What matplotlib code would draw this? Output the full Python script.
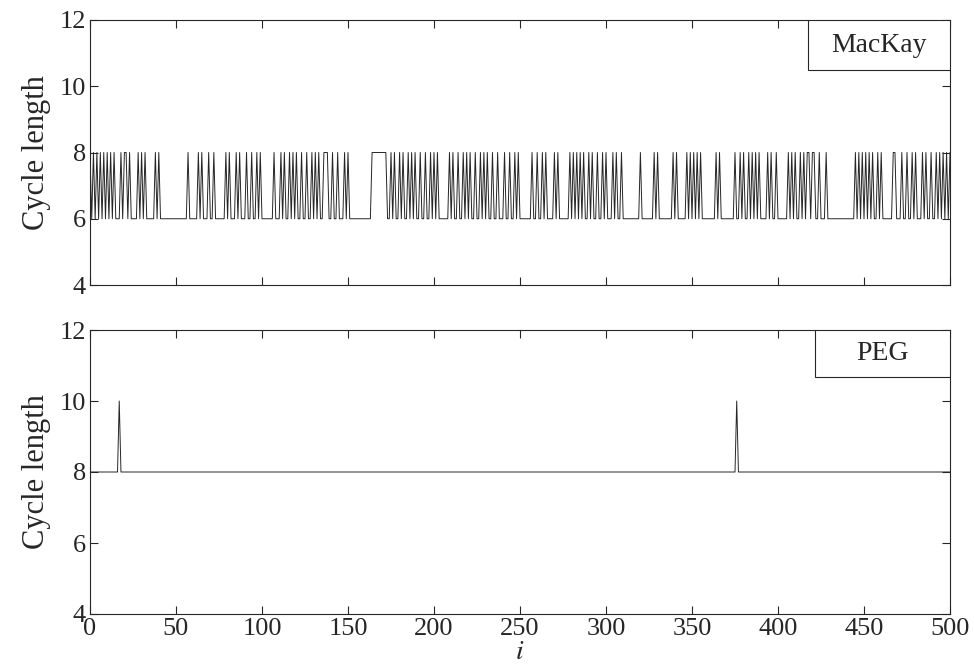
import numpy as np
import matplotlib
matplotlib.use("Agg")
import matplotlib.pyplot as plt
from matplotlib.patches import Rectangle

plt.rcParams["font.family"] = ["Liberation Serif", "DejaVu Serif"]
plt.rcParams["mathtext.fontset"] = "stix"

INK = "#262626"

# Cycle index axis
I_MAX = 500

# MacKay: cycle length is 6 except at these indices, where it is 8
MACKAY_EIGHTS = [
    0, 2, 4, 6, 8, 10, 12, 14, 18, 20, 21, 23, 28, 30, 32, 38, 40,
    57, 63, 65, 69, 72, 79, 81, 85, 87, 91, 94, 97, 99,
    107, 111, 113, 116, 118, 120, 123, 126, 129, 131, 133, 136, 137, 138, 141, 144,
    148, 150, 164, 165, 166, 167, 168, 169, 170, 171, 172, 175, 177, 180, 182,
    185, 187, 189, 192, 195, 198,
    200, 202, 209, 211, 214, 217, 219, 221, 224, 227, 229, 231, 234, 237, 241,
    244, 247, 249,
    257, 260, 263, 265, 270, 272, 279, 281, 283, 285, 287, 290, 292, 295, 298,
    300, 304, 306, 309, 320, 328, 330, 339, 341, 347, 349,
    351, 353, 355, 364, 366, 375, 378, 380, 383, 385, 387, 389, 394, 396, 399,
    406, 408, 410, 413, 415, 417, 418, 420, 421, 424, 428, 445, 447,
    449, 451, 453, 455, 458, 460, 467, 468, 472, 475, 478, 480, 484, 486, 489,
    492, 494, 496, 498, 500,
]
MACKAY_LOW, MACKAY_HIGH = 6, 8

# PEG: cycle length is 8 everywhere, with two spikes to 10
PEG_BASE = 8
PEG_SPIKES = [17, 376]
PEG_SPIKE_VALUE = 10

Y_TICKS = [4, 6, 8, 10, 12]
X_TICKS = [0, 50, 100, 150, 200, 250, 300, 350, 400, 450, 500]

i = np.arange(0, I_MAX + 1)
mackay = np.full(i.shape, MACKAY_LOW, dtype=float)
mackay[MACKAY_EIGHTS] = MACKAY_HIGH
peg = np.full(i.shape, PEG_BASE, dtype=float)
peg[PEG_SPIKES] = PEG_SPIKE_VALUE

fig = plt.figure(figsize=(9.74, 6.65), dpi=100)
W, H = 974, 665
ax_top = fig.add_axes([90 / W, 1 - 285 / H, 860 / W, 265 / H])
ax_bot = fig.add_axes([90 / W, 1 - 614 / H, 860 / W, 284 / H])


def style(ax, label, box_w, box_h, show_x):
    ax.set_xlim(0, I_MAX)
    ax.set_ylim(4, 12)
    ax.set_xticks(X_TICKS)
    ax.set_yticks(Y_TICKS)
    ax.tick_params(direction="in", top=True, right=True, length=6, width=0.8,
                   labelsize=19, colors=INK, pad=3)
    if not show_x:
        ax.tick_params(labelbottom=False)
    for s in ax.spines.values():
        s.set_linewidth(0.8)
        s.set_color(INK)
    ax.set_ylabel("Cycle length", fontsize=22, color=INK, labelpad=6)
    ax.add_patch(Rectangle((1 - box_w, 1 - box_h), box_w, box_h,
                           transform=ax.transAxes, facecolor="white",
                           edgecolor=INK, linewidth=0.8, zorder=4))
    ax.text(1 - box_w / 2, 1 - box_h / 2, label, transform=ax.transAxes,
            ha="center", va="center", fontsize=20, color=INK, zorder=5)


ax_top.plot(i, mackay, color=INK, linewidth=0.7)
style(ax_top, "MacKay", 142 / 860, 50 / 265, False)

ax_bot.plot(i, peg, color=INK, linewidth=0.7)
style(ax_bot, "PEG", 135 / 860, 47 / 284, True)
ax_bot.set_xlabel("$i$", fontsize=20, color=INK, labelpad=0)

fig.savefig("out.png", dpi=100, facecolor="white")
